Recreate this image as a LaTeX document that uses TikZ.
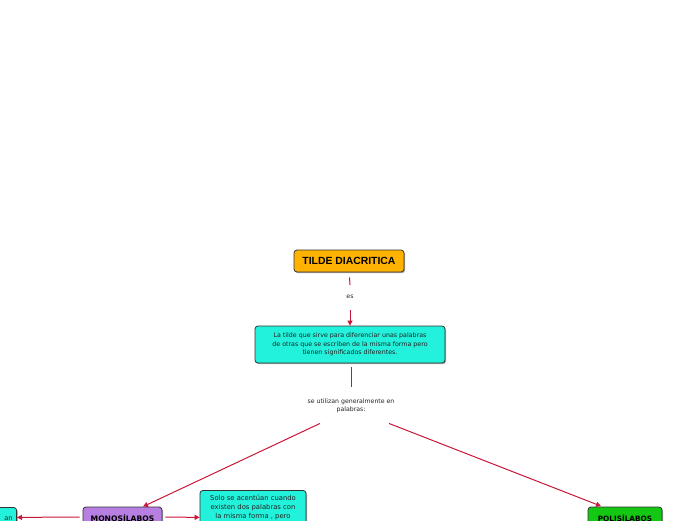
\documentclass[tikz,border=0pt]{standalone}
\usepackage{fontspec}
\setmainfont{DejaVu Sans}
\newfontfamily\titlefont{Liberation Sans}
\usetikzlibrary{arrows.meta,shadows,calc}
\definecolor{conn}{HTML}{C8173A}
\definecolor{orangebox}{HTML}{FFB300}
\definecolor{cyanbox}{HTML}{22F2DC}
\definecolor{purplebox}{HTML}{B77FE2}
\definecolor{greenbox}{HTML}{12C812}
\definecolor{txt}{HTML}{222222}
\tikzset{
  mapbox/.style={draw=black!80, line width=0.8pt, rounded corners=3pt, align=center,
    text=txt, inner sep=0pt,
    drop shadow={shadow xshift=1pt, shadow yshift=-1.2pt, opacity=0.35, fill=black}},
  lbl/.style={align=center, text=txt, inner sep=0pt, font=\fontsize{6.2}{8.5}\selectfont},
  conline/.style={draw=conn, color=conn, line width=1pt},
  conarrow/.style={conline, -{Triangle[width=5pt,length=5pt]}},
}
\begin{document}
\begin{tikzpicture}[x=1pt,y=-1pt]
\useasboundingbox (0,0) rectangle (696,520);
\clip (0,0) rectangle (696,520);
\node[mapbox, fill=orangebox, minimum width=110pt, minimum height=22pt,
  font=\titlefont\bfseries\fontsize{10.4}{12}\selectfont, text=black] (title) at (349,261) {TILDE DIACRITICA};
\node[lbl] (es) at (350,297) {es};
\node[mapbox, fill=cyanbox, minimum width=190pt, minimum height=37pt,
  font=\fontsize{6.3}{8.7}\selectfont] (def) at (350,344.5)
  {La tilde que sirve para diferenciar unas palabras\\de otras que se escriben de la misma forma pero\\tienen significados diferentes.};
\node[lbl] (su) at (351,406) {se utilizan generalmente en\\palabras:};
\node[mapbox, fill=purplebox, minimum width=79pt, minimum height=22pt,
  font=\bfseries\fontsize{7.6}{9}\selectfont, text=black] (mono) at (122.5,518) {MONOSÍLABOS};
\node[mapbox, fill=greenbox, minimum width=74pt, minimum height=22pt,
  font=\bfseries\fontsize{7.3}{9}\selectfont, text=black] (poly) at (625,518) {POLISÍLABOS};
\node[mapbox, fill=cyanbox, minimum width=77pt, minimum height=22pt, text width=69pt,
  align=right, inner xsep=4pt, font=\fontsize{6.6}{9}\selectfont, anchor=north east] (left) at (17,507) {an\\[5pt]};
\node[mapbox, fill=cyanbox, minimum width=106pt, minimum height=56pt, anchor=north,
  font=\fontsize{6.8}{9}\selectfont] (solo) at (253,490)
  {\rule{0pt}{9pt}Solo se acentúan cuando\\existen dos palabras con\\la misma forma , pero\\ \\ \\};
\draw[conline] ($(title.south)+(0.5,5)$) -- ($(es.north)+(0,-10)$);
\draw[conarrow] ($(es.south)+(0,11)$) -- (def.north);
\draw[conline] ($(def.south)+(1,4)$) -- ($(su.north)+(0,-12)$);
\draw[conarrow] ($(su.south)+(-31,10)$) -- ($(mono.north)+(20.5,0)$);
\draw[conarrow] ($(su.south)+(38,10)$) -- ($(poly.north)+(-24,-0.5)$);
\draw[conarrow] ($(mono.west)+(-3,-1)$) -- ($(left.east)+(0,-1)$);
\draw[conarrow] ($(mono.east)+(3,-1)$) -- ($(solo.west)+(0,-1)$);
\end{tikzpicture}
\end{document}
